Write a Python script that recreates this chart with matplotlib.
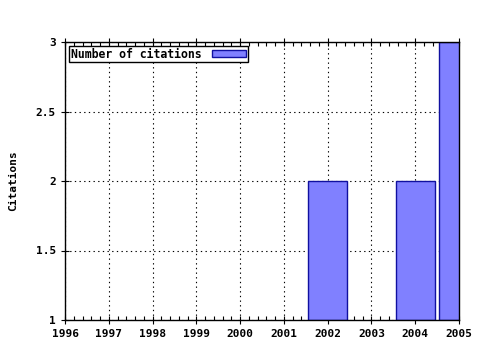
import matplotlib
matplotlib.use("Agg")
import matplotlib.pyplot as plt
from matplotlib.ticker import MultipleLocator

years = [2002, 2004, 2005]
citations = [2, 2, 3]
xticks = list(range(1996, 2006))
yticks = [1, 1.5, 2, 2.5, 3]
ytick_labels = ["1", "1.5", "2", "2.5", "3"]

plt.rcParams['font.family'] = ['DejaVu Sans Mono']
plt.rcParams['font.weight'] = 'bold'

fig = plt.figure(figsize=(4.8, 3.5), dpi=100)
ax = fig.add_axes([65/480, 1-320/350, (459-65)/480, (320-42)/350])

base = 1
ax.bar(years, [c - base for c in citations], bottom=base, width=0.9,
       color='#8080ff', edgecolor='#1010a0', linewidth=1.0,
       label='Number of citations', zorder=3)

ax.set_xlim(1996, 2005)
ax.set_ylim(1, 3)
ax.set_xticks(xticks)
ax.set_xticklabels([str(x) for x in xticks], fontsize=8, fontweight='bold')
ax.set_yticks(yticks)
ax.set_yticklabels(ytick_labels, fontsize=8, fontweight='bold')
ax.xaxis.set_minor_locator(MultipleLocator(0.2))
ax.tick_params(axis='x', which='major', direction='inout', length=6, width=0.8, top=True)
ax.tick_params(axis='x', which='minor', direction='in', length=3, width=0.8, top=True)
ax.tick_params(axis='y', which='major', direction='inout', length=6, width=0.8, right=False)
ax.grid(True, which='major', linestyle=(0, (1.2, 3)), color='black', linewidth=0.8, zorder=1)
ax.set_axisbelow(True)
for s in ax.spines.values():
    s.set_linewidth(1.0)
    s.set_zorder(4)

ax.set_ylabel('Citations', fontsize=8, fontweight='bold', labelpad=13)

leg = ax.legend(loc='upper left', fontsize=8.3, frameon=True, fancybox=False,
                markerfirst=False, handlelength=3.0, handleheight=0.6,
                borderpad=0.15, borderaxespad=0.35, handletextpad=0.9)
leg.get_frame().set_edgecolor('black')
leg.get_frame().set_linewidth(1.0)
leg.get_frame().set_alpha(1)

fig.savefig('out.png', dpi=100)
